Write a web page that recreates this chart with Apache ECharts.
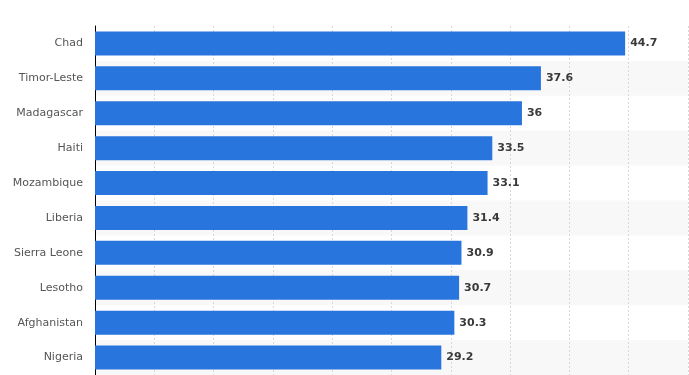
<!DOCTYPE html>
<html>
<head>
<meta charset="utf-8">
<script src="https://cdn.jsdelivr.net/npm/echarts@6/dist/echarts.min.js"></script>
<style>html,body{margin:0;padding:0;background:#fff}#c{width:689px;height:375px}</style>
</head>
<body>
<div id="c"></div>
<script>
var categories = ['Chad','Timor-Leste','Madagascar','Haiti','Mozambique','Liberia','Sierra Leone','Lesotho','Afghanistan','Nigeria'];
var values = [44.7, 37.6, 36, 33.5, 33.1, 31.4, 30.9, 30.7, 30.3, 29.2];
var chart = echarts.init(document.getElementById('c'), null, {renderer:'canvas'});
chart.setOption({
  animation: false,
  grid: {left: 95, right: 1, top: 26, bottom: -2, containLabel: false},
  xAxis: {
    type: 'value', min: 0, max: 50, interval: 5,
    axisLabel: {show: false}, axisLine: {show: false}, axisTick: {show: false},
    splitLine: {show: true, lineStyle: {color: '#d8d8d8', type: [2, 2], width: 1}}
  },
  yAxis: {
    type: 'category', data: categories, inverse: true,
    axisLine: {show: true, lineStyle: {color: '#000', width: 1}},
    axisTick: {show: false},
    axisLabel: {color: '#555', fontSize: 11, fontFamily: 'DejaVu Sans', margin: 12},
    splitArea: {show: true, areaStyle: {color: ['rgba(255,255,255,0)', '#f8f8f8']}}
  },
  series: [{
    type: 'bar', data: values, barWidth: 24,
    itemStyle: {color: '#2876dd'},
    label: {show: true, position: 'right', distance: 5, color: '#3a3a3a', fontSize: 11, fontWeight: 'bold', fontFamily: 'DejaVu Sans'}
  }]
});
</script>
</body>
</html>
